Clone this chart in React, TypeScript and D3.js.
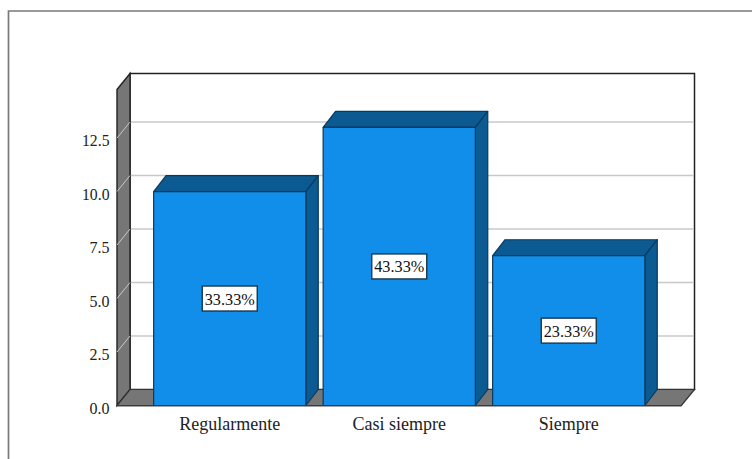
import React from "react";
import * as d3 from "d3";

const categories = ["Regularmente", "Casi siempre", "Siempre"];
const counts = [10, 13, 7];
const shareLabels = ["33.33%", "43.33%", "23.33%"];
const yTicks = [0, 2.5, 5, 7.5, 10, 12.5];

const WIDTH = 752;
const HEIGHT = 459;
const DEPTH_X = 13;
const DEPTH_Y = 16;
const BAR_DEPTH_X = 12.4;
const FONT = "'Liberation Serif', serif";

const FACE = "#108ee9";
const SHADE = "#0b5a92";
const EDGE = "#0a3a5e";
const WALL = "#767676";

const y = d3.scaleLinear().domain([0, 14.77]).range([405.5, 89.5]);
const x = d3
  .scaleBand<string>()
  .domain(categories)
  .range([145, 653.5])
  .paddingInner(0.102)
  .paddingOuter(0.051);

const LEFT = 117;
const RIGHT = 681.5;

const poly = (pts: [number, number][]) => pts.map((p) => p.join(",")).join(" ");

export default function App() {
  const top = y.range()[1];
  const base = y(0);
  return (
    <svg
      width={WIDTH}
      height={HEIGHT}
      style={{ position: "absolute", left: 0, top: 0, display: "block", background: "#fff" }}
    >
      {/* outer frame, open on the right and at the bottom */}
      <path d={`M8.5,${HEIGHT} V11 H${WIDTH}`} fill="none" stroke="#7a7a7a" strokeWidth={1.7} />

      {/* back wall */}
      <rect
        x={LEFT + DEPTH_X}
        y={top - DEPTH_Y}
        width={RIGHT - LEFT}
        height={base - top}
        fill="#fff"
        stroke="#222"
        strokeWidth={1.5}
      />

      {/* side wall and floor */}
      <polygon
        points={poly([
          [LEFT, top],
          [LEFT + DEPTH_X, top - DEPTH_Y],
          [LEFT + DEPTH_X, base - DEPTH_Y],
          [LEFT, base],
        ])}
        fill={WALL}
        stroke="#222"
        strokeWidth={1.4}
      />
      <polygon
        points={poly([
          [LEFT, base],
          [LEFT + DEPTH_X, base - DEPTH_Y],
          [RIGHT + DEPTH_X, base - DEPTH_Y],
          [RIGHT, base],
        ])}
        fill={WALL}
        stroke="#333"
        strokeWidth={1.2}
      />

      {/* gridlines run across the back wall and fold down the side wall */}
      {yTicks.filter((t) => t > 0).map((t) => (
        <g key={t} fill="none" stroke="#c8c8c8">
          <path d={`M${LEFT + DEPTH_X + 1},${y(t) - DEPTH_Y}H${RIGHT + DEPTH_X - 0.5}`} strokeWidth={1.4} />
          <path d={`M${LEFT},${y(t)}L${LEFT + DEPTH_X},${y(t) - DEPTH_Y}`} strokeWidth={1} />
        </g>
      ))}

      {/* value axis labels */}
      {yTicks.map((t) => {
        const label = t.toFixed(1);
        return (
          <text
            key={t}
            x={109.5}
            y={y(t) + 8}
            textAnchor="end"
            fontFamily={FONT}
            fontSize={17}
            textLength={label.length === 4 ? 27.5 : 20}
            lengthAdjust="spacingAndGlyphs"
            fill="#222"
          >
            {label}
          </text>
        );
      })}

      {/* bars */}
      {categories.map((c, i) => {
        const x0 = x(c)!;
        const x1 = x0 + x.bandwidth();
        const yTop = y(counts[i]);
        return (
          <g key={c} stroke={EDGE} strokeWidth={1.2} strokeLinejoin="round">
            <polygon
              points={poly([
                [x0, yTop],
                [x0 + BAR_DEPTH_X, yTop - DEPTH_Y],
                [x1 + BAR_DEPTH_X, yTop - DEPTH_Y],
                [x1, yTop],
              ])}
              fill={SHADE}
            />
            <polygon
              points={poly([
                [x1, yTop],
                [x1 + BAR_DEPTH_X, yTop - DEPTH_Y],
                [x1 + BAR_DEPTH_X, base - DEPTH_Y],
                [x1, base],
              ])}
              fill={SHADE}
            />
            <rect x={x0} y={yTop} width={x.bandwidth()} height={base - yTop} fill={FACE} />
          </g>
        );
      })}

      {/* axis baseline in front of the bars */}
      <line x1={LEFT} x2={RIGHT} y1={base + 0.5} y2={base + 0.5} stroke="#444" strokeWidth={1.2} />

      {/* percentage labels centred on each bar */}
      {categories.map((c, i) => {
        const cx = x(c)! + x.bandwidth() / 2;
        const cy = y(counts[i] / 2);
        return (
          <g key={c}>
            <rect
              x={cx - 27.5}
              y={cy - 12.5}
              width={55}
              height={25}
              fill="#fff"
              stroke="#17384f"
              strokeWidth={1.4}
            />
            <text
              x={cx}
              y={cy + 6}
              textAnchor="middle"
              fontFamily={FONT}
              fontSize={17}
              textLength={50}
              lengthAdjust="spacingAndGlyphs"
              fill="#111"
            >
              {shareLabels[i]}
            </text>
          </g>
        );
      })}

      {/* category labels */}
      {categories.map((c) => (
        <text
          key={c}
          x={x(c)! + x.bandwidth() / 2}
          y={429.5}
          textAnchor="middle"
          fontFamily={FONT}
          fontSize={18}
          fill="#222"
        >
          {c}
        </text>
      ))}
    </svg>
  );
}
